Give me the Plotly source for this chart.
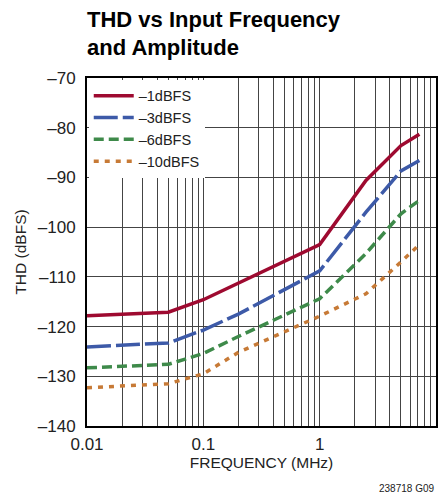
import plotly.graph_objects as go

# Frequency points (MHz) and THD (dBFS)
freq = [0.01, 0.05, 0.1, 0.2, 1, 2.5, 5, 7.2]
thd_1dbfs = [-117.8, -117.1, -114.6, -111.3, -103.5, -90.6, -83.6, -81.3]
thd_3dbfs = [-124.1, -123.3, -120.7, -117.5, -108.8, -97.0, -88.7, -86.6]
thd_6dbfs = [-128.3, -127.6, -125.4, -122.0, -114.4, -105.3, -97.3, -94.6]
thd_10dbfs = [-132.3, -131.5, -129.5, -125.2, -117.9, -113.4, -107.0, -103.5]

series_names = ['–1dBFS', '–3dBFS', '–6dBFS', '–10dBFS']
series_values = [thd_1dbfs, thd_3dbfs, thd_6dbfs, thd_10dbfs]
series_colors = ['#9e0a30', '#3d5aa8', '#3e8a4a', '#c77a36']
series_dash = ['solid', '24px,5px', '10px,5px', '5px,6px']

x_tickvals = [0.01, 0.1, 1, 10]
x_ticktext = ['0.01', '0.1', '1', '10']
y_tickvals = [-140, -130, -120, -110, -100, -90, -80, -70]
y_ticktext = ['–140', '–130', '–120', '–110', '–100', '–90', '–80', '–70']

FONT = 'Liberation Sans, Arial, sans-serif'

fig = go.Figure()
for name, values, color, dash in zip(series_names, series_values, series_colors, series_dash):
    fig.add_trace(
        go.Scatter(
            x=freq,
            y=values,
            name=name,
            mode='lines',
            line=dict(color=color, width=3.5, dash=dash),
        )
    )

minor_vals = [m * 10 ** e for e in (-2, -1, 0) for m in range(2, 10)]

fig.update_layout(
    width=444,
    height=497,
    margin=dict(l=87, r=8, t=78, b=71),
    paper_bgcolor='white',
    plot_bgcolor='white',
    font=dict(family=FONT, size=16, color='#222222'),
    showlegend=True,
    legend=dict(
        x=0.005,
        y=0.995,
        xanchor='left',
        yanchor='top',
        bgcolor='white',
        font=dict(size=14.5, color='#222222'),
        itemwidth=40,
        tracegroupgap=0,
    ),
    xaxis=dict(
        type='log',
        range=[-2, 1],
        tickvals=x_tickvals,
        ticktext=x_ticktext,
        ticks='',
        automargin=False,
        showgrid=True,
        gridcolor='#444444',
        gridwidth=1,
        minor=dict(tickvals=minor_vals, showgrid=True, gridcolor='#444444', gridwidth=1, ticks=''),
        showline=True,
        linecolor='black',
        linewidth=2,
        mirror=True,
        zeroline=False,
        ticklabelstandoff=2,
        tickfont=dict(size=17),
        title=dict(text='FREQUENCY (MHz)', font=dict(size=15.5), standoff=3),
    ),
    yaxis=dict(
        range=[-140, -70],
        tickvals=y_tickvals,
        ticktext=y_ticktext,
        ticks='',
        automargin=False,
        showgrid=True,
        gridcolor='#444444',
        gridwidth=1,
        showline=True,
        linecolor='black',
        linewidth=2,
        mirror=True,
        zeroline=False,
        ticklabelstandoff=6,
        tickfont=dict(size=17),
        title=dict(text='THD (dBFS)', font=dict(size=15.5), standoff=7),
    ),
    annotations=[
        dict(
            text='<b>THD vs Input Frequency</b>',
            xref='paper', yref='paper',
            x=0, y=1,
            xanchor='left', yanchor='middle',
            xshift=-2, yshift=59,
            showarrow=False,
            font=dict(family=FONT, size=22, color='black'),
        ),
        dict(
            text='<b>and Amplitude</b>',
            xref='paper', yref='paper',
            x=0, y=1,
            xanchor='left', yanchor='middle',
            xshift=-2, yshift=31,
            showarrow=False,
            font=dict(family=FONT, size=22, color='black'),
        ),
        dict(
            text='238718 G09',
            xref='paper', yref='paper',
            x=1, y=0,
            xanchor='right', yanchor='top',
            yshift=-55,
            showarrow=False,
            font=dict(family=FONT, size=10, color='#222222'),
        ),
    ],
)

# drop the default page margin so the figure sits at the window's corner
fig.write_html(
    'out.html',
    config={'displayModeBar': False},
    post_script="document.body.style.margin='0';",
)
